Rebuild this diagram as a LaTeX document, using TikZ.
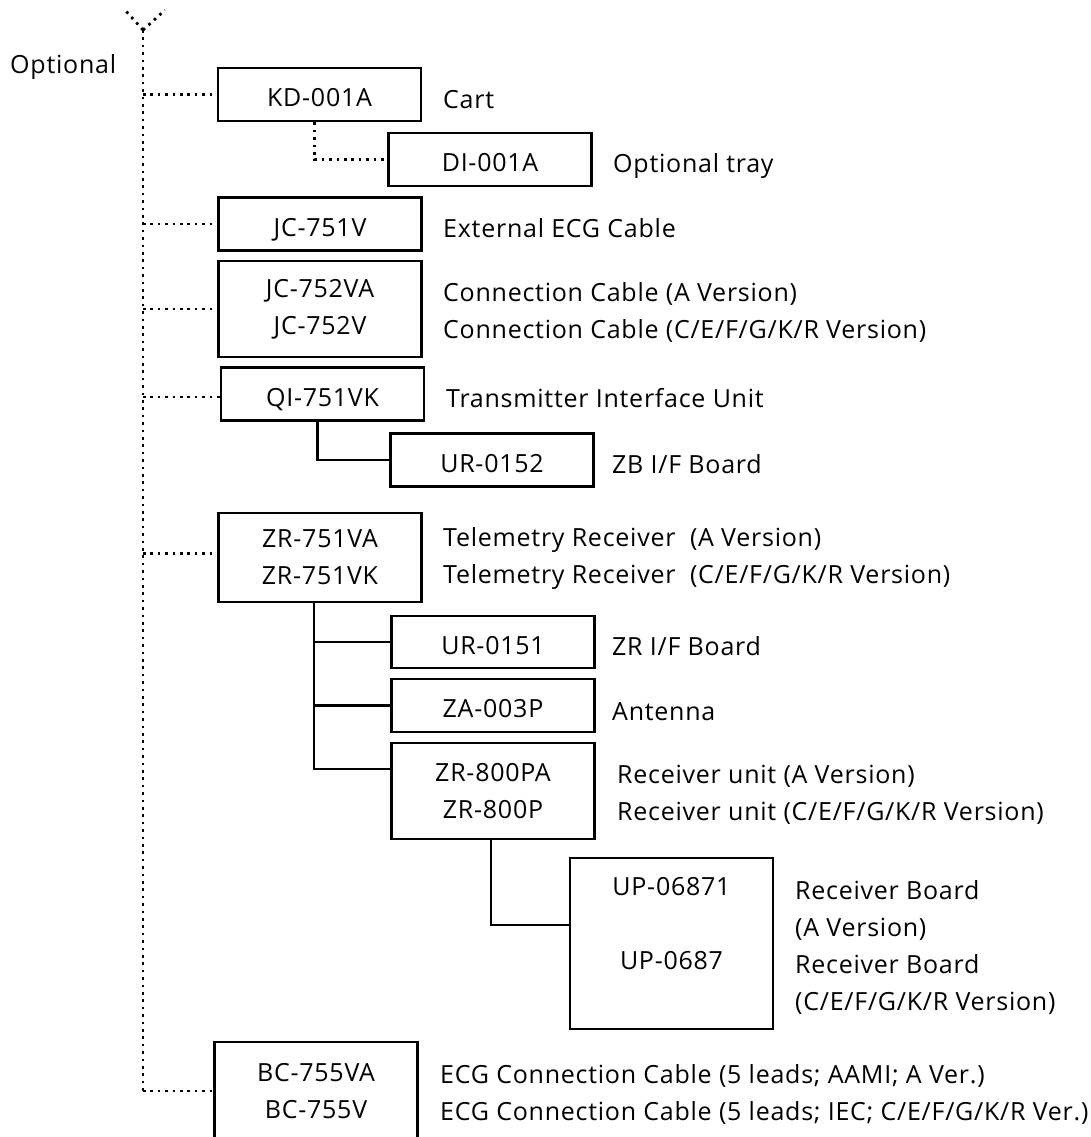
\documentclass[tikz,border=0pt]{standalone}
\usepackage{fontspec}
\setmainfont{Open Sans}[LetterSpace=3]
\usetikzlibrary{positioning}

\begin{document}
\begin{tikzpicture}[x=1pt, y=-1pt,
    box/.style={draw, line width=2.6pt, minimum width=203pt, minimum height=53pt,
      inner sep=0pt, align=center, font=\fontsize{25}{37}\selectfont},
    part/.style={box, text height=24pt, text depth=0pt},
    twin/.style={box, minimum height=96pt},
    descr/.style={anchor=base west, inner sep=0pt, align=left,
      font=\fontsize{25}{37}\selectfont},
    opt/.style={line width=2.8pt, dash pattern=on 2.6pt off 4.8pt},
    link/.style={line width=2.6pt}]
  \useasboundingbox (0,0) rectangle (1090,1137);
  \clip (0,0) rectangle (1090,1137);

  % parts
  \node (kd) [part] at (319.5,94.5) {KD-001A};
  \node (di) [part] at (490,159.5) {DI-001A};
  \node (jc1) [part] at (320,224) {JC-751V};
  \node (jc2) [twin] at (320,309) {JC-752VA\\JC-752V};
  \node (qi) [part] at (322.5,394) {QI-751VK};
  \node (ur2) [part] at (492,460) {UR-0152};
  \node (zr) [twin, minimum height=89pt] at (320,557.5) {ZR-751VA\\ZR-751VK};
  \node (ur1) [part, minimum height=52pt] at (493,642) {UR-0151};
  \node (za) [part] at (493,705.5) {ZA-003P};
  \node (zr8) [twin] at (493,791) {ZR-800PA\\ZR-800P};
  \node (up) [box, minimum height=171pt] at (671.5,943.5) {\strut UP-06871\\\strut\\UP-0687\\\strut};
  \node (bc) [twin, minimum height=98pt] at (316,1091) {BC-755VA\\BC-755V};

  % descriptions
  \node (opt-d) [descr] at (10,74) {Optional};
  \node (kd-d) [descr] at (443,109) {Cart};
  \node (di-d) [descr] at (613,172) {Optional tray};
  \node (jc1-d) [descr] at (443,237) {External ECG Cable};
  \node (jc2-d) [descr] at (443,338) {Connection Cable (A Version)\\Connection Cable (C/E/F/G/K/R Version)};
  \node (qi-d) [descr] at (446,407) {Transmitter Interface Unit};
  \node (ur2-d) [descr] at (612,473) {ZB I/F Board};
  \node (zr-d) [descr] at (443,583) {Telemetry Receiver\ \ (A Version)\\Telemetry Receiver\ \ (C/E/F/G/K/R Version)};
  \node (ur1-d) [descr] at (612,655) {ZR I/F Board};
  \node (za-d) [descr] at (612,720) {Antenna};
  \node (zr8-d) [descr] at (617,820) {Receiver unit (A Version)\\Receiver unit (C/E/F/G/K/R Version)};
  \node (up-d) [descr] at (795,1010) {Receiver Board\\(A Version)\\Receiver Board\\(C/E/F/G/K/R Version)};
  \node (bc-d) [descr] at (440,1120) {ECG Connection Cable (5 leads; AAMI; A Ver.)\\ECG Connection Cable (5 leads; IEC; C/E/F/G/K/R Ver.)};

  % optional line
  \coordinate (fork) at (143,30);
  \draw [opt] (fork) -- ++(-18,-20);
  \draw [opt] (fork) -- ++(22,-20);
  \path [opt]
    (fork) edge (fork |- bc.west)
    (fork |- kd.west) edge (kd.west)
    (fork |- jc1.west) edge (jc1.west)
    (fork |- jc2.west) edge (jc2.west)
    ([yshift=-3pt]fork |- qi.west) edge ([yshift=-3pt]qi.west)
    ([yshift=4pt]fork |- zr.west) edge ([yshift=4pt]zr.west)
    (fork |- bc.west) edge (bc.west);
  \draw [opt] ([xshift=-5pt]kd.south) |- (di.west);

  % sub units
  \draw [link] ([xshift=-5pt]qi.south) |- (ur2.west);
  \draw [link] ([xshift=-6pt]zr.south) |- ([yshift=22pt]zr8.west);
  \path [link]
    ([xshift=-6pt]zr.south |- ur1.west) edge (ur1.west)
    ([xshift=-6pt]zr.south |- za.west) edge (za.west);
  \draw [link] ([xshift=-2pt]zr8.south) |- ([yshift=18.5pt]up.west);
\end{tikzpicture}
\end{document}
